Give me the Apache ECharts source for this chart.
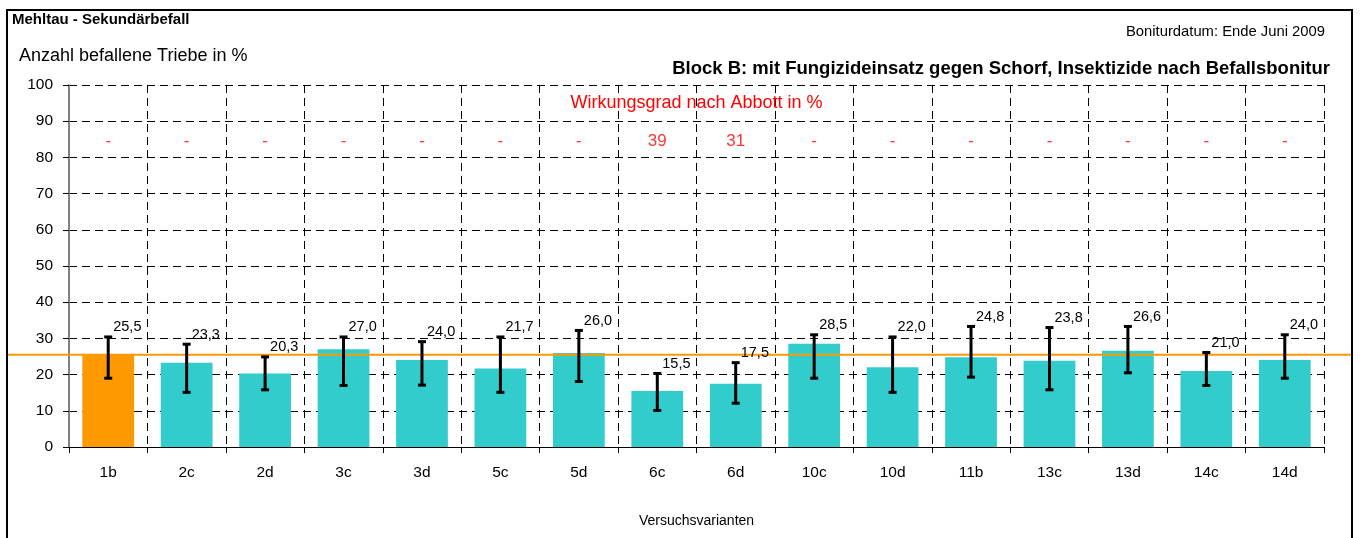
<!DOCTYPE html>
<html>
<head>
<meta charset="utf-8">
<title>Mehltau - Sekundärbefall</title>
<script src="https://cdn.jsdelivr.net/npm/echarts@6/dist/echarts.min.js"></script>
<style>
  html, body { margin: 0; padding: 0; background: #fff; }
  #myChart { width: 1361px; height: 538px; }
</style>
</head>
<body>
<div id="myChart"></div>
<script>
// Versuchsvarianten
const categories = ['1b', '2c', '2d', '3c', '3d', '5c', '5d', '6c', '6d', '10c', '10d', '11b', '13c', '13d', '14c', '14d'];
// Anzahl befallene Triebe in %
const values = [25.5, 23.3, 20.3, 27.0, 24.0, 21.7, 26.0, 15.5, 17.5, 28.5, 22.0, 24.8, 23.8, 26.6, 21.0, 24.0];
// error bar ends
const errHigh = [30.4, 28.4, 24.9, 30.4, 29.1, 30.4, 32.2, 20.3, 23.3, 31.0, 30.4, 33.3, 33.0, 33.3, 26.1, 31.0];
const errLow = [19.0, 15.1, 15.8, 17.0, 17.1, 15.1, 18.1, 10.1, 12.1, 19.0, 15.1, 19.3, 15.8, 20.5, 17.0, 19.0];
// Wirkungsgrad nach Abbott in %
const abbott = ['-', '-', '-', '-', '-', '-', '-', '39', '31', '-', '-', '-', '-', '-', '-', '-'];
// y axis
const yMin = 0, yMax = 100, yStep = 10;

const FONT = '"Liberation Sans", Arial, sans-serif';
const ORANGE = '#FF9900';
const TEAL = '#33CCCC';
const ABBOTT_ROW = 84.5; // height (in axis units) of the red Abbott row

const fmt = v => v.toFixed(1).replace('.', ',');

let chart = echarts.init(document.getElementById('myChart'));

chart.setOption({
  animation: false,
  backgroundColor: '#fff',
  grid: { left: 69, right: 37, top: 85, bottom: 91 },
  xAxis: {
    type: 'category',
    data: categories,
    boundaryGap: true,
    name: 'Versuchsvarianten',
    nameLocation: 'middle',
    nameGap: 67,
    nameTextStyle: { fontFamily: FONT, fontSize: 14, color: '#000' },
    axisLine: { lineStyle: { color: '#000', width: 1 } },
    axisTick: { show: true, length: 6, lineStyle: { color: '#000' } },
    axisLabel: { fontFamily: FONT, fontSize: 15.5, color: '#000', margin: 18 },
    splitLine: { show: true, lineStyle: { color: '#000', type: [8, 5], width: 1 } }
  },
  yAxis: {
    type: 'value',
    min: yMin,
    max: yMax,
    interval: yStep,
    axisLine: { show: true, lineStyle: { color: '#808080', width: 2 } },
    axisTick: { show: true, length: 6, lineStyle: { color: '#000' } },
    axisLabel: { fontFamily: FONT, fontSize: 15.5, color: '#000', margin: 16 },
    splitLine: { show: true, lineStyle: { color: '#000', type: [8, 5], width: 1 } }
  },
  series: [
    {
      type: 'bar',
      data: values.map((v, i) => ({ value: v, itemStyle: { color: i === 0 ? ORANGE : TEAL } })),
      barCategoryGap: '34%',
      z: 2
    },
    {
      type: 'custom',
      z: 5,
      data: categories.map((c, i) => [i, errLow[i], errHigh[i], values[i]]),
      renderItem: function (params, api) {
        const lo = api.coord([api.value(0), api.value(1)]);
        const hi = api.coord([api.value(0), api.value(2)]);
        const x = lo[0], cap = 4;
        const st = { stroke: '#000', lineWidth: 3 };
        return {
          type: 'group',
          children: [
            { type: 'line', shape: { x1: x, y1: lo[1], x2: x, y2: hi[1] }, style: st },
            { type: 'line', shape: { x1: x - cap, y1: lo[1], x2: x + cap, y2: lo[1] }, style: st },
            { type: 'line', shape: { x1: x - cap, y1: hi[1], x2: x + cap, y2: hi[1] }, style: st },
            {
              type: 'text',
              x: x + 5, y: hi[1] - 2,
              style: {
                text: fmt(api.value(3)),
                fontFamily: FONT, fontSize: 14.5, fill: '#000',
                align: 'left', verticalAlign: 'bottom'
              }
            }
          ]
        };
      }
    },
    {
      type: 'scatter',
      symbolSize: 0,
      z: 5,
      data: abbott.map((a, i) => [i, ABBOTT_ROW]),
      label: {
        show: true,
        position: 'inside',
        formatter: p => abbott[p.dataIndex],
        fontFamily: FONT, fontSize: 17, color: '#FF0000'
      },
      silent: true
    }
  ]
});

// frame, texts and the reference line through the 1b value
const refY = chart.convertToPixel({ yAxisIndex: 0 }, values[0]);
const gridMid = (chart.convertToPixel({ xAxisIndex: 0 }, 0) + chart.convertToPixel({ xAxisIndex: 0 }, categories.length - 1)) / 2;

chart.setOption({
  graphic: [
    { type: 'rect', shape: { x: 7, y: 10, width: 1345, height: 540 }, style: { fill: 'none', stroke: '#000', lineWidth: 2 }, z: 1 },
    { type: 'line', shape: { x1: 8, y1: refY, x2: 1351, y2: refY }, style: { stroke: ORANGE, lineWidth: 2 }, z: 3 },
    { type: 'text', x: 12, y: 20, style: { text: 'Mehltau - Sekundärbefall', fontFamily: FONT, fontSize: 15, fontWeight: 'bold', fill: '#000', verticalAlign: 'middle' } },
    { type: 'text', x: 1325, y: 32, style: { text: 'Boniturdatum: Ende Juni 2009', fontFamily: FONT, fontSize: 14.8, fill: '#000', align: 'right', verticalAlign: 'middle' } },
    { type: 'text', x: 19, y: 56, style: { text: 'Anzahl befallene Triebe in %', fontFamily: FONT, fontSize: 18, fill: '#000', verticalAlign: 'middle' } },
    { type: 'text', x: 1330, y: 69, style: { text: 'Block B: mit Fungizideinsatz gegen Schorf, Insektizide nach Befallsbonitur', fontFamily: FONT, fontSize: 18.5, fontWeight: 'bold', fill: '#000', align: 'right', verticalAlign: 'middle' } },
    { type: 'text', x: gridMid, y: 103, style: { text: 'Wirkungsgrad nach Abbott in %', fontFamily: FONT, fontSize: 18, fill: '#FF0000', align: 'center', verticalAlign: 'middle' } }
  ]
});
</script>
</body>
</html>
